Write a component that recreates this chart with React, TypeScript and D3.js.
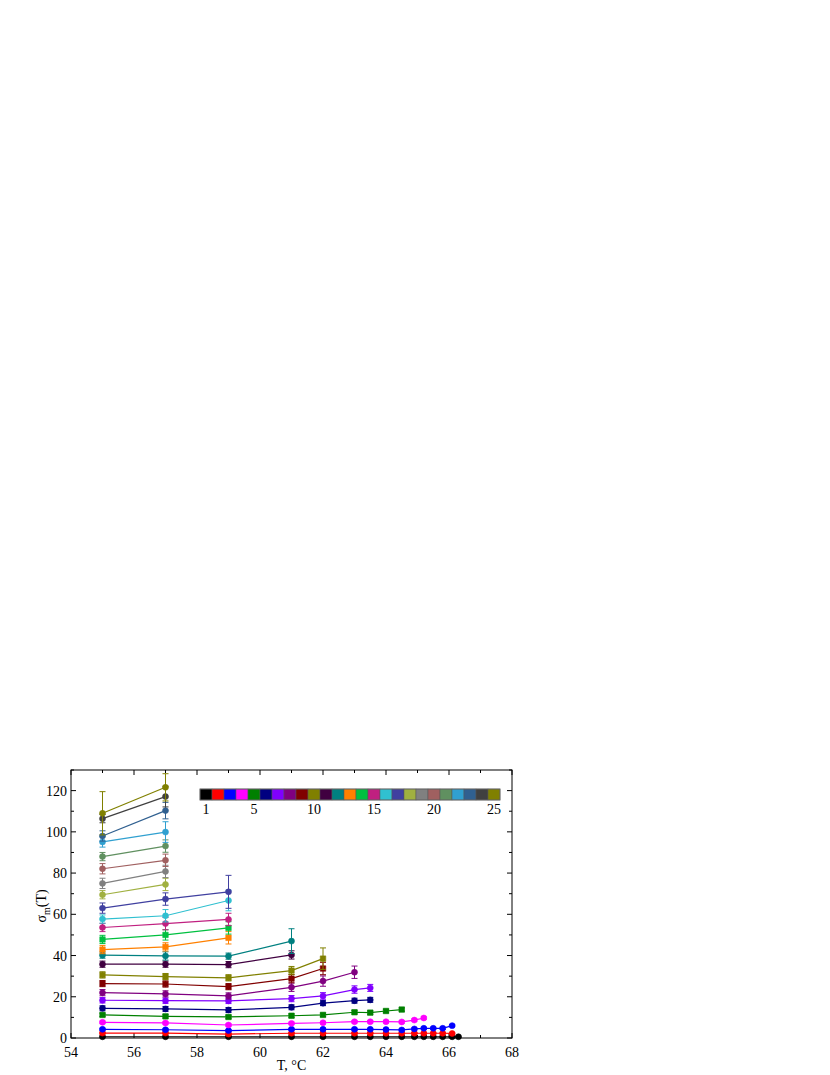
import React, { useRef, useEffect } from 'react';
import * as d3 from 'd3';

// temperatures (°C) shared by all curves; each curve uses a prefix of them
const temps = [55, 57, 59, 61, 62, 63, 63.5, 64, 64.5, 64.9, 65.2, 65.5, 65.8, 66.1, 66.3];

const seriesColors = [
    '#000000', '#ff0000', '#0000ff', '#ff00ff', '#008000',
    '#000080', '#8000ff', '#800080', '#800000', '#808000',
    '#400040', '#008080', '#ff8000', '#00c040', '#c02080',
    '#30c0d0', '#4040a0', '#a0b040', '#808080', '#a06060',
    '#609060', '#30a0d0', '#306090', '#404040', '#808000',
];

const seriesValues: number[][] = [
    [0.6, 0.6, 0.6, 0.6, 0.6, 0.6, 0.6, 0.6, 0.6, 0.6, 0.6, 0.6, 0.6, 0.6, 0.6],
    [2.4, 2.4, 1.9, 2.3, 2.3, 2.3, 2.3, 2.3, 2.3, 2.3, 2.3, 2.3, 2.3, 2.2],
    [4.2, 4.0, 3.6, 4.2, 4.2, 4.2, 4.2, 4.1, 3.9, 4.4, 4.7, 4.7, 4.7, 6.0],
    [7.6, 7.3, 6.3, 7.1, 7.4, 7.9, 7.9, 7.9, 7.8, 8.7, 9.7],
    [11.2, 10.5, 10.2, 10.8, 11.2, 12.5, 12.3, 13.1, 13.8],
    [14.4, 14.1, 13.6, 14.9, 16.9, 18.1, 18.5],
    [18.3, 18.1, 18.0, 19.1, 20.4, 23.5, 24.3],
    [22.0, 21.4, 20.4, 24.6, 27.6, 31.9],
    [26.4, 26.2, 24.9, 28.8, 33.7],
    [30.6, 29.8, 29.2, 32.7, 38.5],
    [35.8, 35.8, 35.6, 40.3],
    [40.2, 39.8, 39.7, 47.0],
    [42.9, 44.2, 48.6],
    [47.8, 50.0, 53.4],
    [53.6, 55.5, 57.5],
    [57.7, 59.3, 66.7],
    [63.0, 67.4, 70.9],
    [69.5, 74.5],
    [75.0, 80.8],
    [82.1, 86.2],
    [88.0, 93.1],
    [95.1, 99.9],
    [98.0, 110.3],
    [106.4, 117.1],
    [109.0, 121.6],
];

const seriesErrors: number[][] = [
    [0.3, 0.3, 0.3, 0.3, 0.3, 0.3, 0.3, 0.3, 0.3, 0.3, 0.3, 0.3, 0.3, 0.3, 0.3],
    [0.4, 0.4, 0.4, 0.4, 0.4, 0.4, 0.4, 0.4, 0.4, 0.4, 0.4, 0.4, 0.4, 0.4],
    [0.5, 0.5, 0.5, 0.5, 0.5, 0.5, 0.5, 0.5, 0.5, 0.5, 0.5, 0.5, 0.5, 0.5],
    [0.6, 0.6, 0.6, 0.6, 0.6, 0.6, 0.6, 0.6, 0.6, 0.6, 0.6],
    [0.8, 0.8, 0.8, 0.8, 0.8, 0.8, 0.8, 0.8, 0.8],
    [1.2, 1.2, 1.2, 1.2, 1.2, 1.2, 1.2],
    [1.3, 1.3, 1.3, 1.5, 1.6, 1.8, 1.7],
    [1.5, 1.5, 1.5, 2.0, 2.5, 3.0],
    [1.5, 1.5, 1.5, 2.0, 3.0],
    [1.5, 1.5, 1.5, 2.0, 5.2],
    [1.5, 1.5, 1.5, 2.0],
    [1.5, 2.0, 1.5, 6.0],
    [2.0, 2.0, 3.0],
    [2.0, 2.5, 3.0],
    [2.0, 3.0, 3.0],
    [2.0, 3.0, 5.0],
    [2.5, 3.0, 8.0],
    [2.0, 3.0],
    [2.5, 3.0],
    [2.5, 3.0],
    [2.0, 3.0],
    [2.5, 5.0],
    [2.5, 4.0],
    [2.0, 5.0],
    [10.5, 6.6],
];

const squareSeries = [5, 9, 10, 13, 14];

const xTicks = [54, 56, 58, 60, 62, 64, 66, 68];
const xMinor = [55, 57, 59, 61, 63, 65, 67];
const yTicks = [0, 20, 40, 60, 80, 100, 120];
const yMinor = [10, 30, 50, 70, 90, 110, 130];
const legendLabels = [1, 5, 10, 15, 20, 25];

const FONT = '"Liberation Serif", "Times New Roman", serif';

const App: React.FC = () => {
    const svgRef = useRef<SVGSVGElement>(null);

    useEffect(() => {
        if (!svgRef.current) return;

        const width = 830;
        const height = 1075;
        const left = 71, right = 512, top = 770, bottom = 1038;

        d3.select(svgRef.current).selectAll('*').remove();

        const svg = d3.select(svgRef.current)
            .attr('width', width)
            .attr('height', height);

        const x = d3.scaleLinear().domain([54, 68]).range([left, right]);
        const y = d3.scaleLinear().domain([0, 130]).range([bottom, top]);

        // frame
        svg.append('rect')
            .attr('x', left).attr('y', top)
            .attr('width', right - left).attr('height', bottom - top)
            .attr('fill', 'none').attr('stroke', '#000').attr('stroke-width', 1);

        const tickG = svg.append('g').attr('stroke', '#000').attr('stroke-width', 1);
        const tick = (x1: number, y1: number, x2: number, y2: number) =>
            tickG.append('line').attr('x1', x1).attr('y1', y1).attr('x2', x2).attr('y2', y2);

        xTicks.forEach(t => {
            tick(x(t), bottom, x(t), bottom - 5);
            tick(x(t), top, x(t), top + 5);
        });
        xMinor.forEach(t => {
            tick(x(t), bottom, x(t), bottom - 3);
            tick(x(t), top, x(t), top + 3);
        });
        yTicks.forEach(t => {
            tick(left, y(t), left + 5, y(t));
            tick(right, y(t), right - 5, y(t));
        });
        yMinor.forEach(t => {
            tick(left, y(t), left + 3, y(t));
            tick(right, y(t), right - 3, y(t));
        });

        svg.append('g').selectAll('text')
            .data(xTicks).enter().append('text')
            .attr('x', d => x(d)).attr('y', bottom + 19)
            .attr('text-anchor', 'middle')
            .style('font-family', FONT).style('font-size', '14px')
            .text(d => d);

        svg.append('g').selectAll('text')
            .data(yTicks).enter().append('text')
            .attr('x', left - 4).attr('y', d => y(d) + 5)
            .attr('text-anchor', 'end')
            .style('font-family', FONT).style('font-size', '14px')
            .text(d => d);

        svg.append('text')
            .attr('x', (left + right) / 2).attr('y', bottom + 32)
            .attr('text-anchor', 'middle')
            .style('font-family', FONT).style('font-size', '14px')
            .text('T, °C');

        const yLab = svg.append('text')
            .attr('transform', `translate(46,${(top + bottom) / 2 + 2}) rotate(-90)`)
            .attr('text-anchor', 'middle')
            .style('font-family', FONT).style('font-size', '14px');
        yLab.append('tspan').text('σ');
        yLab.append('tspan').attr('dy', 4).style('font-size', '10px').text('m');
        yLab.append('tspan').attr('dy', -4).text('(T)');

        // curves
        const line = d3.line<[number, number]>()
            .x(d => x(d[0]))
            .y(d => y(d[1]));

        seriesValues.forEach((vals, i) => {
            const color = seriesColors[i];
            const pts: [number, number][] = vals.map((v, j) => [temps[j], v]);
            const errs = seriesErrors[i];
            const g = svg.append('g');

            g.append('path')
                .attr('d', line(pts))
                .attr('fill', 'none')
                .attr('stroke', color)
                .attr('stroke-width', 1.2);

            pts.forEach((p, j) => {
                const e = errs[j] ?? 0;
                const px = x(p[0]);
                g.append('line')
                    .attr('x1', px).attr('x2', px)
                    .attr('y1', y(p[1] - e)).attr('y2', y(p[1] + e))
                    .attr('stroke', color).attr('stroke-width', 1);
                [p[1] - e, p[1] + e].forEach(v => {
                    g.append('line')
                        .attr('x1', px - 3).attr('x2', px + 3)
                        .attr('y1', y(v)).attr('y2', y(v))
                        .attr('stroke', color).attr('stroke-width', 1);
                });
            });

            const isSquare = squareSeries.includes(i + 1);
            const sym = d3.symbol()
                .type(isSquare ? d3.symbolSquare : d3.symbolCircle)
                .size(isSquare ? 30 : 28);

            g.selectAll('path.pt')
                .data(pts).enter().append('path')
                .attr('class', 'pt')
                .attr('transform', d => `translate(${x(d[0])},${y(d[1])})`)
                .attr('d', sym())
                .attr('fill', color)
                .attr('stroke', color)
                .attr('stroke-width', 0.6);
        });

        // colour legend bar
        const lx = d3.scaleBand<number>()
            .domain(d3.range(1, 26))
            .range([200, 500]);
        const legend = svg.append('g');
        legend.selectAll('rect')
            .data(d3.range(1, 26)).enter().append('rect')
            .attr('x', d => lx(d)!)
            .attr('y', 789)
            .attr('width', lx.bandwidth())
            .attr('height', 11)
            .attr('fill', d => seriesColors[d - 1])
            .attr('stroke', '#555')
            .attr('stroke-width', 0.5);
        legend.append('rect')
            .attr('x', 200).attr('y', 789)
            .attr('width', 300).attr('height', 11)
            .attr('fill', 'none').attr('stroke', '#666').attr('stroke-width', 0.8);
        legend.selectAll('text')
            .data(legendLabels).enter().append('text')
            .attr('x', d => lx(d)! + lx.bandwidth() / 2)
            .attr('y', 814)
            .attr('text-anchor', 'middle')
            .style('font-family', FONT).style('font-size', '14px')
            .text(d => d);
    }, []);

    return (
        <svg ref={svgRef} style={{ position: 'absolute', left: 0, top: 0, display: 'block' }}></svg>
    );
};

export default App;
